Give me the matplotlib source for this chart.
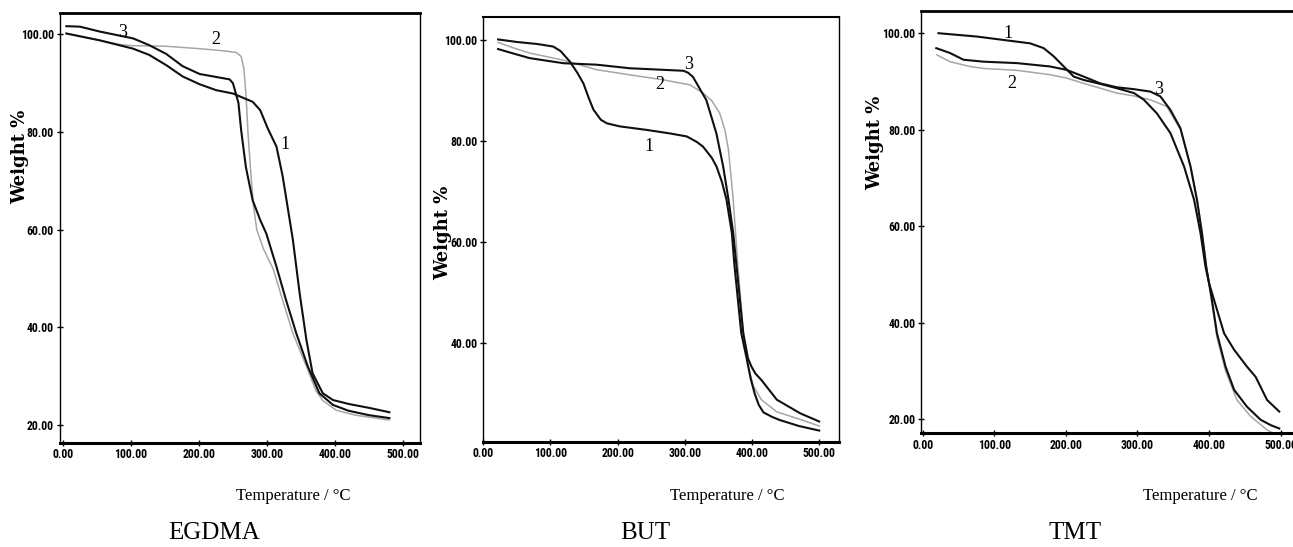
import matplotlib
matplotlib.use('Agg')
import matplotlib.pyplot as plt

# ---------------- data ----------------
panel_titles = ["EGDMA", "BUT", "TMT"]
x_ticks = [0, 100, 200, 300, 400, 500]
y_ticks_egdma = [20, 40, 60, 80, 100]
y_ticks_but = [40, 60, 80, 100]
y_ticks_tmt = [20, 40, 60, 80, 100]

# EGDMA
egdma_t1 = [5, 54, 103, 127, 152, 176, 201, 225, 250, 279, 290, 301, 314, 323, 338, 348, 358, 367, 382, 397, 420, 450, 480]
egdma_w1 = [100.2, 98.8, 97.1, 95.8, 93.7, 91.4, 89.8, 88.6, 87.9, 86.2, 84.5, 80.8, 77.0, 71.0, 58.0, 47.0, 37.4, 30.6, 26.5, 25.1, 24.3, 23.5, 22.6]
egdma_t2 = [5, 54, 85, 103, 150, 200, 240, 255, 262, 266, 269, 272, 276, 280, 285, 295, 309, 323, 338, 358, 372, 382, 402, 430, 480]
egdma_w2 = [100.2, 98.8, 97.9, 97.7, 97.6, 97.1, 96.6, 96.3, 95.5, 93.0, 88.0, 80.0, 72.0, 65.0, 60.0, 56.0, 52.0, 45.6, 38.8, 32.0, 27.0, 25.0, 23.0, 22.0, 21.0]
egdma_t3 = [5, 25, 54, 103, 127, 152, 176, 201, 225, 245, 250, 255, 258, 262, 269, 279, 290, 299, 314, 328, 343, 360, 377, 397, 420, 450, 480]
egdma_w3 = [101.7, 101.6, 100.6, 99.2, 97.8, 96.0, 93.5, 91.9, 91.3, 90.8, 90.0, 87.5, 86.0, 80.4, 72.8, 66.0, 62.0, 59.2, 52.4, 45.6, 38.8, 32.0, 26.5, 24.1, 22.9, 22.0, 21.4]

# BUT
but_t1 = [22, 50, 80, 104, 115, 129, 140, 149, 157, 164, 175, 184, 203, 243, 278, 303, 318, 327, 340, 347, 355, 362, 370, 374, 384, 392, 398, 404, 410, 417, 430, 441, 470, 500]
but_w1 = [100.1, 99.6, 99.2, 98.7, 97.8, 95.7, 93.5, 91.4, 88.5, 86.2, 84.2, 83.5, 82.9, 82.2, 81.5, 80.9, 79.8, 78.9, 76.7, 75.0, 72.0, 68.4, 61.8, 55.2, 42.0, 37.0, 33.0, 30.0, 27.8, 26.3, 25.4, 24.8, 23.6, 22.7]
but_t2 = [22, 50, 69, 119, 169, 218, 268, 308, 327, 340, 352, 360, 365, 372, 379, 387, 395, 402, 414, 437, 472, 500]
but_w2 = [99.5, 98.2, 97.4, 96.0, 94.1, 93.1, 92.1, 91.1, 89.5, 88.0, 85.5, 82.0, 78.2, 68.4, 55.2, 42.0, 35.0, 31.5, 28.8, 26.4, 24.9, 23.6]
but_t3 = [22, 40, 69, 119, 169, 218, 298, 305, 312, 332, 347, 357, 365, 372, 377, 387, 394, 399, 405, 414, 437, 472, 500]
but_w3 = [98.2, 97.5, 96.4, 95.4, 95.1, 94.4, 93.9, 93.5, 92.7, 88.1, 81.5, 75.0, 68.4, 61.8, 55.2, 42.0, 37.0, 35.4, 34.0, 32.7, 28.8, 26.1, 24.5]

# TMT
tmt_t1 = [22, 76, 113, 150, 169, 183, 197, 211, 225, 248, 271, 295, 309, 327, 346, 365, 379, 388, 395, 400, 407, 421, 435, 453, 465, 481, 498]
tmt_w1 = [100.0, 99.3, 98.6, 97.9, 96.9, 95.2, 93.1, 91.0, 90.3, 89.5, 88.6, 87.6, 86.2, 83.4, 79.3, 72.4, 65.5, 58.6, 51.6, 48.2, 44.7, 37.8, 34.4, 30.9, 28.8, 24.0, 21.6]
tmt_t2 = [20, 38, 66, 85, 132, 178, 201, 225, 248, 271, 295, 318, 341, 360, 375, 384, 391, 397, 404, 411, 423, 439, 458, 481, 490]
tmt_w2 = [95.5, 94.1, 93.1, 92.7, 92.3, 91.4, 90.7, 89.6, 88.6, 87.6, 87.0, 86.2, 84.8, 80.0, 72.0, 65.0, 58.0, 51.0, 44.0, 37.0, 30.0, 24.0, 20.6, 17.8, 17.1]
tmt_t3 = [19, 38, 57, 85, 132, 178, 201, 225, 248, 271, 295, 318, 332, 346, 360, 374, 383, 390, 396, 404, 411, 423, 435, 453, 472, 486, 498]
tmt_w3 = [96.9, 95.9, 94.5, 94.1, 93.8, 93.1, 92.4, 91.0, 89.6, 88.8, 88.4, 87.9, 86.9, 84.1, 80.3, 72.4, 65.5, 58.6, 51.6, 44.7, 37.8, 30.9, 26.1, 22.6, 19.9, 18.8, 18.1]

curve_labels = ["1", "2", "3"]
# (T, W) positions of the curve numbers
egdma_label_pos = [(327, 77.4), (225, 98.9), (88, 100.5)]
but_label_pos = [(247, 78.9), (263, 91.1), (305, 95.1)]
tmt_label_pos = [(119, 100.0), (124, 89.6), (329, 88.3)]

# ---------------- layout ----------------
W_PX, H_PX = 1293, 547
fig = plt.figure(figsize=(W_PX / 100, H_PX / 100), dpi=100)


def ax_px(left, top, right, bottom):
    return fig.add_axes([left / W_PX, 1 - bottom / H_PX,
                         (right - left) / W_PX, (bottom - top) / H_PX])


panels = [
    dict(box=(59.5, 13, 420, 442.5), xlim=(-5.1, 525), ylim=(16.4, 104.4),
         yticks=y_ticks_egdma,
         curves=[(egdma_t1, egdma_w1), (egdma_t2, egdma_w2), (egdma_t3, egdma_w3)],
         labels=egdma_label_pos, ylab=(20, 157), xlab=293, title=214, top_lw=2.0),
    dict(box=(482.7, 16.7, 839, 441.7), xlim=(-0.9, 529.5), ylim=(20.5, 104.6),
         yticks=y_ticks_but,
         curves=[(but_t1, but_w1), (but_t2, but_w2), (but_t3, but_w3)],
         labels=but_label_pos, ylab=(443, 233), xlab=727, title=645, top_lw=1.5),
    dict(box=(920.7, 11, 1295, 433.3), xlim=(-2.8, 520), ylim=(17.1, 104.6),
         yticks=y_ticks_tmt,
         curves=[(tmt_t1, tmt_w1), (tmt_t2, tmt_w2), (tmt_t3, tmt_w3)],
         labels=tmt_label_pos, ylab=(875, 143), xlab=1200, title=1075, top_lw=2.0),
]

tick_font = dict(family=['Roboto Condensed', 'Liberation Sans Narrow', 'Liberation Sans', 'DejaVu Sans'],
                 size=8.5, weight='bold')
serif = ['Liberation Serif', 'DejaVu Serif']
black = '#101010'
gray = '#a6a6a6'

for i, p in enumerate(panels):
    ax = ax_px(*p['box'])
    for j, (t, w) in enumerate(p['curves']):
        if j == 1:
            ax.plot(t, w, color=gray, lw=1.1, zorder=2)
        else:
            ax.plot(t, w, color=black, lw=1.5, zorder=3)
    for lab, (tx, wy) in zip(curve_labels, p['labels']):
        ax.text(tx, wy, lab, ha='center', va='center', fontsize=13,
                family=serif, color='black', zorder=4)
    ax.set_xlim(*p['xlim'])
    ax.set_ylim(*p['ylim'])
    ax.set_xticks(x_ticks)
    ax.set_yticks(p['yticks'])
    ax.set_xticklabels([f"{v:.2f}" for v in x_ticks], fontdict=tick_font)
    ax.set_yticklabels([f"{v:.2f}" for v in p['yticks']], fontdict=tick_font)
    ax.tick_params(axis='both', direction='inout', length=4, width=1, pad=2, color='black')
    ax.spines['bottom'].set_linewidth(2.2)
    ax.spines['top'].set_linewidth(p['top_lw'])
    ax.spines['left'].set_linewidth(1.0)
    ax.spines['right'].set_linewidth(1.0)

    # axis titles as figure text
    fig.text(p['ylab'][0] / W_PX, 1 - p['ylab'][1] / H_PX, "Weight %",
             rotation=90, ha='center', va='center', fontsize=13, weight='bold',
             family='DejaVu Serif')
    fig.text(p['xlab'] / W_PX, 1 - 496 / H_PX, "Temperature / °C",
             ha='center', va='center', fontsize=12, family=serif)
    fig.text(p['title'] / W_PX, 1 - 533 / H_PX, panel_titles[i],
             ha='center', va='center', fontsize=18, family=serif)

fig.savefig('out.png', dpi=100)
